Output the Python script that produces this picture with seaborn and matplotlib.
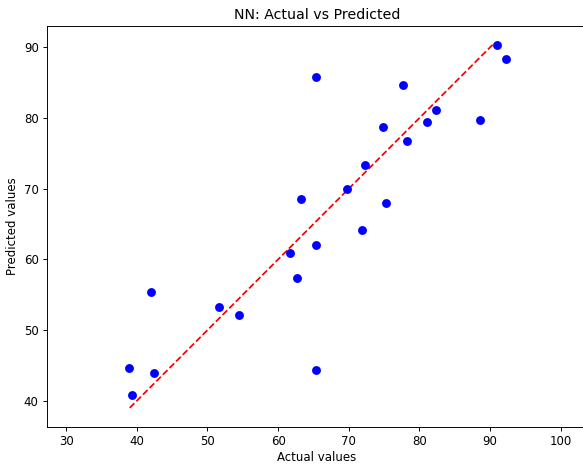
import matplotlib
matplotlib.use("Agg")
import matplotlib.pyplot as plt
import seaborn as sns
import pandas as pd

# actual vs predicted values
actual = [91.0, 92.2, 65.3, 77.6, 74.9, 82.4, 81.0, 88.6, 78.2, 72.3, 69.8, 63.3,
          75.3, 71.8, 65.4, 61.7, 62.7, 42.0, 51.7, 54.4, 38.9, 42.5, 65.4, 39.3]
predicted = [90.3, 88.3, 85.8, 84.6, 78.7, 81.1, 79.4, 79.7, 76.7, 73.4, 69.9, 68.5,
             68.0, 64.1, 62.0, 60.9, 57.3, 55.4, 53.3, 52.1, 44.6, 43.9, 44.4, 40.8]
line_ends = [39.0, 90.6]

df = pd.DataFrame({'actual': actual, 'predicted': predicted})

DPI = 85
fig = plt.figure(figsize=(583 / DPI, 464 / DPI), dpi=DPI)
# right edge of the axes runs just past the canvas, like the cropped reference
ax = fig.add_axes([47 / 583, 37 / 464, 540 / 583, 401 / 464])

sns.lineplot(x=line_ends, y=line_ends, ax=ax, color='red', linestyle='--', linewidth=1.5)
sns.scatterplot(data=df, x='actual', y='predicted', ax=ax, color='blue',
                edgecolor='blue', linewidth=1.5, s=36, zorder=3)

ax.set_xlim(27.3, 103.7)
ax.set_ylim(36.3, 93.0)
ax.set_xticks([30, 40, 50, 60, 70, 80, 90, 100])
ax.set_yticks([40, 50, 60, 70, 80, 90])
ax.set_xlabel('Actual values', labelpad=2)
ax.set_ylabel('Predicted values')
ax.set_title('NN: Actual vs Predicted')

fig.savefig('out.png', dpi=DPI)
